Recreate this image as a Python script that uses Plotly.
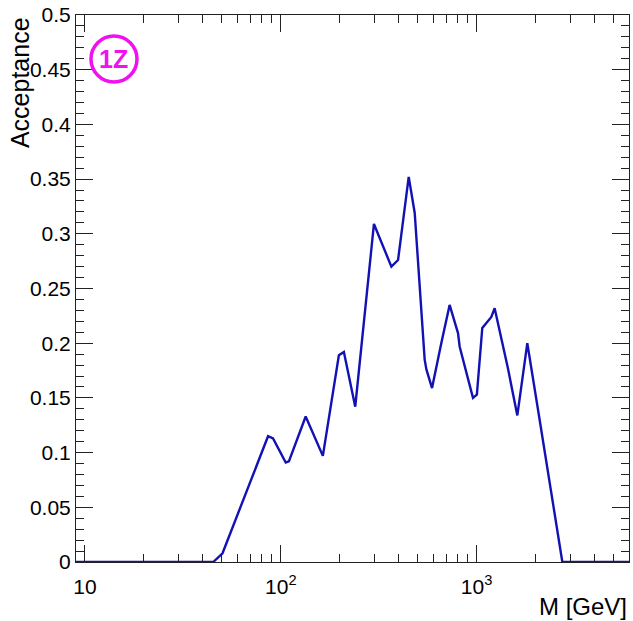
import math
import plotly.graph_objects as go

# Acceptance vs. mass
mass_gev = [9, 45.2, 50.4, 86.1, 91.3, 106, 110, 134, 164, 198, 210, 240,
            299, 367, 397, 450, 483, 543, 554, 592, 660, 728, 804, 819,
            958, 1003, 1069, 1189, 1236, 1445, 1614, 1815, 2094, 2740, 6000]
acceptance = [0.0, 0.0, 0.008, 0.115, 0.113, 0.091, 0.092, 0.133, 0.097,
              0.189, 0.192, 0.142, 0.309, 0.270, 0.276, 0.352, 0.319,
              0.185, 0.176, 0.159, 0.200, 0.235, 0.209, 0.197, 0.150,
              0.153, 0.214, 0.224, 0.232, 0.177, 0.134, 0.200, 0.131,
              0.0, 0.0]

x_range = [9, 6000]
y_range = [0, 0.5]
x_major = [10, 100, 1000]
x_major_text = ["10", "10<sup>2</sup>", "10<sup>3</sup>"]
x_minor = [20, 30, 40, 50, 60, 70, 80, 90,
           200, 300, 400, 500, 600, 700, 800, 900,
           2000, 3000, 4000, 5000]

FONT = "Liberation Sans, Arial, Helvetica, sans-serif"
LINE_COLOR = "#1212b4"
TAG_COLOR = "#f010f0"

fig = go.Figure()
fig.add_trace(go.Scatter(
    x=mass_gev, y=acceptance, mode="lines",
    line=dict(color=LINE_COLOR, width=2.4),
    showlegend=False, hoverinfo="x+y",
))

fig.update_layout(
    width=633, height=621,
    margin=dict(l=76, r=4, t=15, b=59),
    paper_bgcolor="white", plot_bgcolor="white",
    font=dict(family=FONT, color="black"),
    xaxis=dict(
        type="log", range=[math.log10(x_range[0]), math.log10(x_range[1])],
        tickvals=x_major, ticktext=x_major_text,
        ticks="inside", ticklen=17, tickwidth=1, tickcolor="#222",
        showline=True, linecolor="#222", linewidth=1, mirror="allticks",
        showgrid=False, zeroline=False,
        tickfont=dict(size=21, family=FONT, color="black"),
        ticklabelstandoff=6,
        minor=dict(tickvals=x_minor, ticks="inside", ticklen=8,
                   tickwidth=1, tickcolor="#222", showgrid=False),
    ),
    yaxis=dict(
        range=y_range, dtick=0.05, tick0=0,
        ticks="inside", ticklen=17, tickwidth=1, tickcolor="#222",
        showline=True, linecolor="#222", linewidth=1, mirror="allticks",
        showgrid=False, zeroline=False,
        tickfont=dict(size=21, family=FONT, color="black"),
        ticklabelstandoff=0,
        minor=dict(dtick=0.01, ticks="inside", ticklen=8,
                   tickwidth=1, tickcolor="#222", showgrid=False),
    ),
)

# axis titles, placed at the axis ends
fig.add_annotation(
    text="Acceptance", textangle=-90, showarrow=False,
    xref="paper", yref="paper", x=-0.102, y=1.0,
    xanchor="center", yanchor="top",
    font=dict(size=25, family=FONT, color="black"),
)
fig.add_annotation(
    text="M [GeV]", showarrow=False,
    xref="paper", yref="paper", x=1.0, y=-0.082,
    xanchor="right", yanchor="middle",
    font=dict(size=24, family=FONT, color="black"),
)

# circled channel tag
tag_x, tag_y = 0.0687, 0.9196
fig.add_shape(
    type="circle", xref="paper", yref="paper",
    xsizemode="pixel", ysizemode="pixel",
    xanchor=tag_x, yanchor=tag_y,
    x0=-23, x1=23, y0=-23, y1=23,
    line=dict(color=TAG_COLOR, width=3.5),
)
fig.add_annotation(
    text="1Z", showarrow=False,
    xref="paper", yref="paper", x=tag_x, y=tag_y,
    xanchor="center", yanchor="middle",
    font=dict(size=25, family="Liberation Sans", weight="bold",
              color=TAG_COLOR),
)

fig.write_html("out.html")
